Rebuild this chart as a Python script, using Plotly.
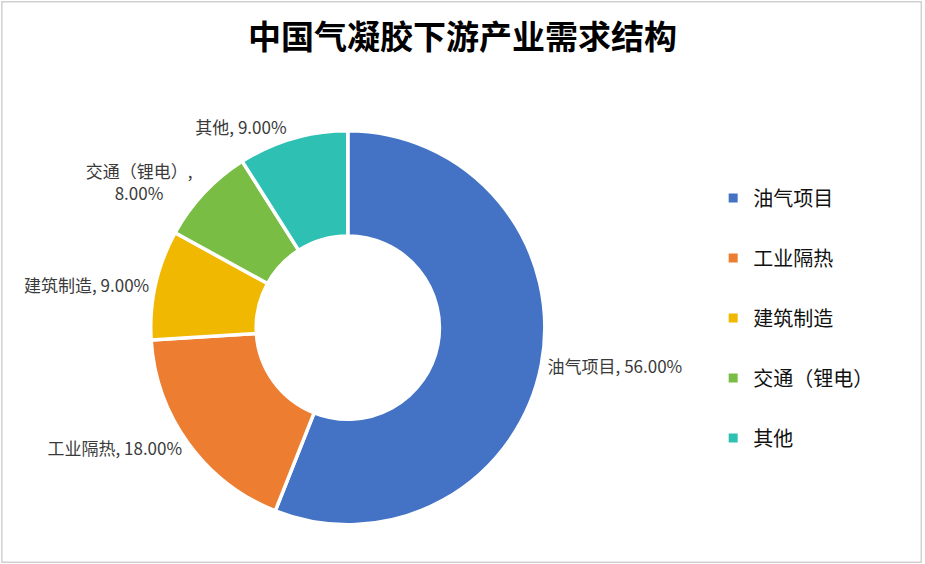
import plotly.graph_objects as go

# data
labels = ["油气项目", "工业隔热", "建筑制造", "交通（锂电）", "其他"]
values = [56.00, 18.00, 9.00, 8.00, 9.00]
colors = ["#4472C4", "#ED7D31", "#F0B800", "#7ABD44", "#2EC1B3"]

FONT = "Noto Sans CJK SC"

# slice labels, the long one wraps like in the original
texts = []
for lab, v in zip(labels, values):
    sep = ",<br>" if lab == "交通（锂电）" else ", "
    texts.append(f"{lab}{sep}{v:.2f}%")

fig = go.Figure()

fig.add_trace(go.Pie(
    labels=labels,
    values=values,
    text=texts,
    texttemplate="%{text}",
    textposition="outside",
    hole=0.465,
    sort=False,
    direction="clockwise",
    rotation=0,
    marker=dict(colors=colors, line=dict(color="white", width=3.5)),
    textfont=dict(family=FONT, size=17, color="#3A3A3A"),
    showlegend=False,
    domain=dict(x=[0.163, 0.589], y=[0.068, 0.770]),
))

# legend entries as dummy traces so the gap between items can be set
for lab, c in zip(labels, colors):
    fig.add_trace(go.Scatter(
        x=[None], y=[None], mode="markers", name=lab,
        marker=dict(symbol="square", size=9, color=c),
        legendgroup=lab,
    ))

fig.update_layout(
    width=925, height=564,
    margin=dict(l=0, r=0, t=0, b=0),
    paper_bgcolor="white",
    plot_bgcolor="white",
    title=dict(
        text="中国气凝胶下游产业需求结构",
        x=0.5, xanchor="center",
        y=0.933, yanchor="middle",
        font=dict(family=FONT, size=33, color="#000000", weight="bold"),
    ),
    xaxis=dict(visible=False),
    yaxis=dict(visible=False),
    legend=dict(
        x=0.771, xanchor="left",
        y=0.436, yanchor="middle",
        font=dict(family=FONT, size=20, color="#111111"),
        tracegroupgap=31,
        itemwidth=30,
    ),
    shapes=[dict(
        type="rect", xref="paper", yref="paper",
        x0=0.002, x1=0.996, y0=0.003, y1=0.997,
        line=dict(color="#D0D0D0", width=1.5),
    )],
)

# page body margin would push the figure 8px off, drop it
fig.write_html(
    "out.html",
    config={"displayModeBar": False},
    post_script="document.body.style.margin='0';",
)
